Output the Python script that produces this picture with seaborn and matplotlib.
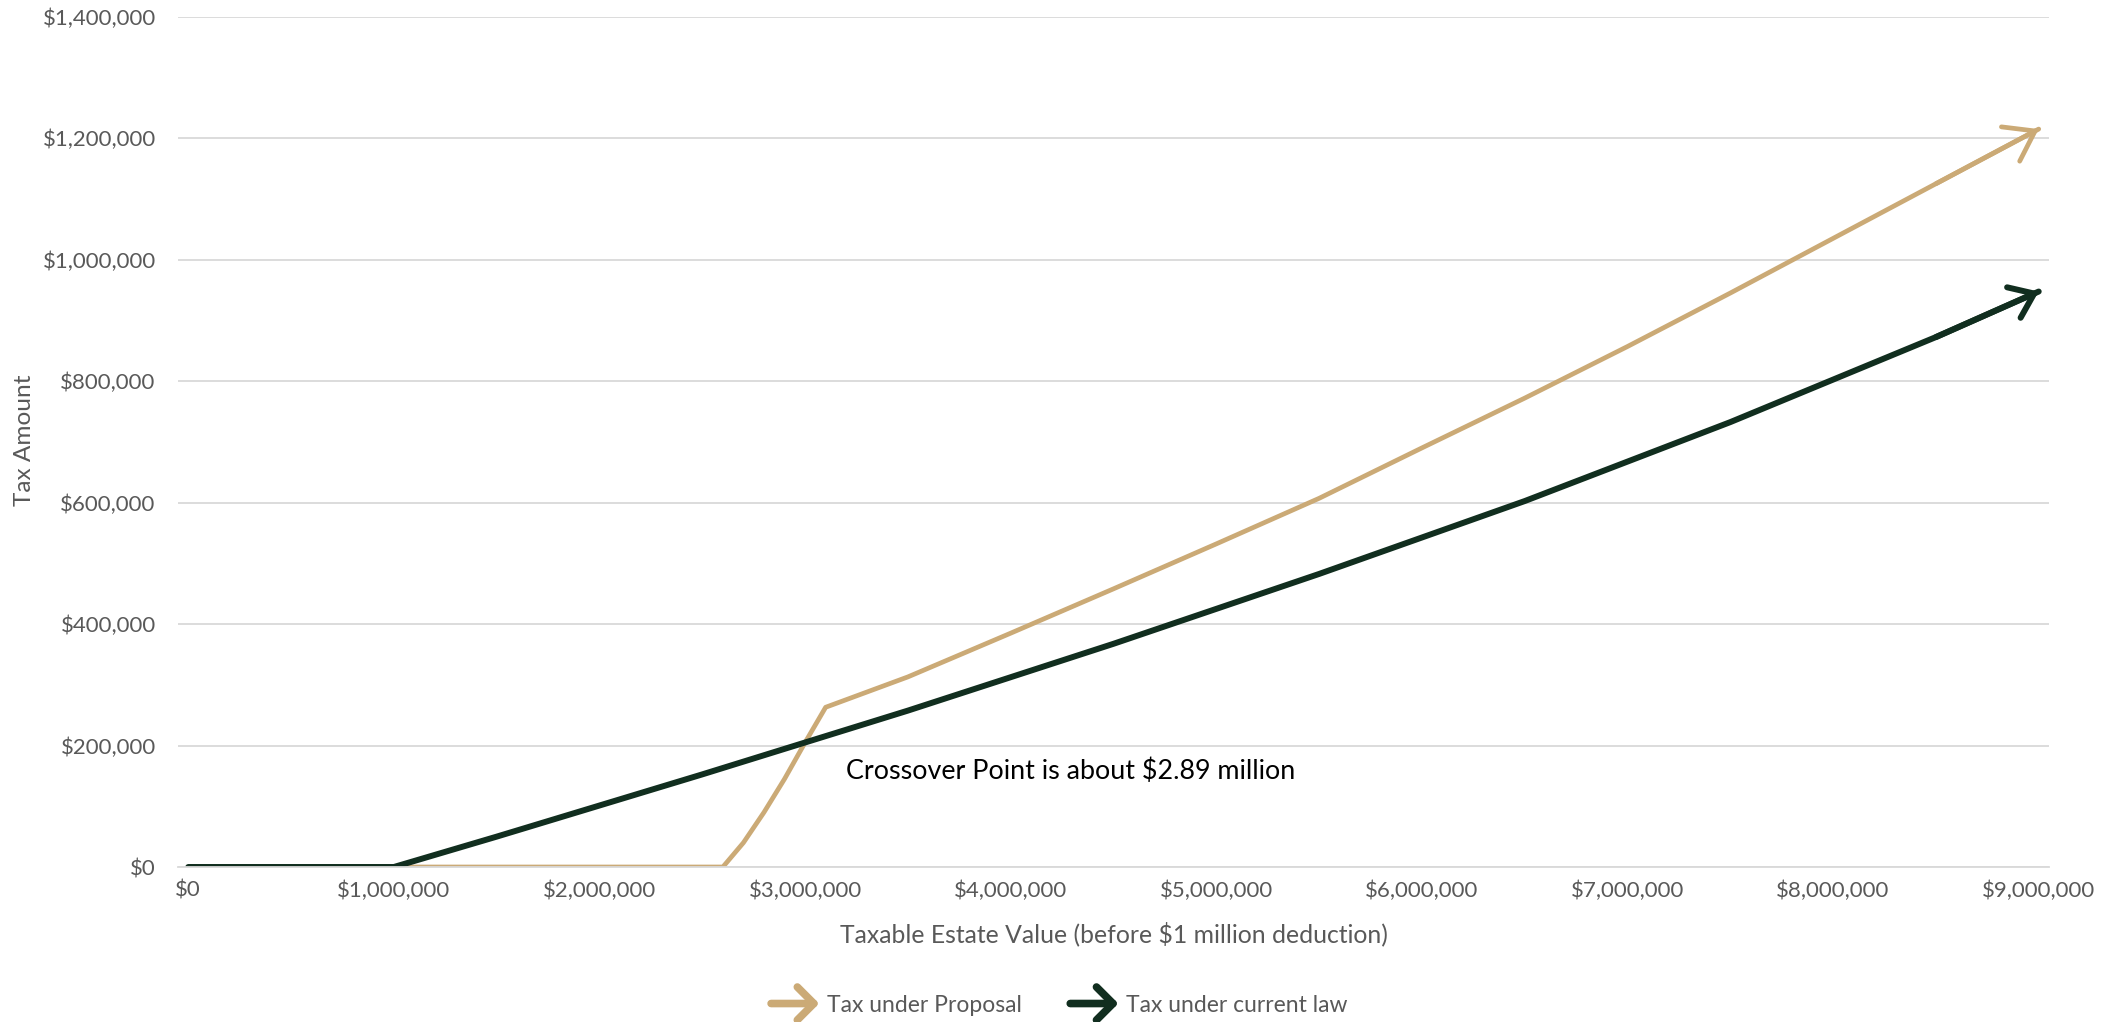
import numpy as np
import pandas as pd
import matplotlib
matplotlib.use("Agg")
import matplotlib.pyplot as plt
import seaborn as sns
from matplotlib.patches import FancyArrowPatch
from matplotlib.legend_handler import HandlerBase
from matplotlib.lines import Line2D
from matplotlib.ticker import FuncFormatter, FixedLocator

# ---------------- data ----------------
estate_proposal = [0, 500000, 1000000, 1500000, 2000000, 2500000, 2600000, 2700000,
                   2800000, 2900000, 3000000, 3100000, 3500000, 4000000, 4500000,
                   5000000, 5500000, 6000000, 6500000, 7000000, 7500000, 8000000,
                   8500000, 9000000]
tax_proposal = [0, 0, 0, 0, 0, 0, 0, 40000, 90000, 145000, 205000, 263000, 313000,
                385000, 458000, 532000, 607000, 690000, 772000, 857000, 945000,
                1035000, 1125000, 1215000]

estate_current = [0, 500000, 1000000, 1500000, 2000000, 2500000, 3000000, 3500000,
                  4000000, 4500000, 5000000, 5500000, 6000000, 6500000, 7000000,
                  7500000, 8000000, 8500000, 9000000]
tax_current = [0, 0, 0, 50000, 101250, 152500, 205000, 257500, 312500, 367500,
               425000, 482500, 542500, 602500, 667500, 732500, 802500, 872500, 947500]

series_names = ["Tax under Proposal", "Tax under current law"]
series_colors = ["#CBAA76", "#112E1F"]
x_tick_values = [0, 1000000, 2000000, 3000000, 4000000, 5000000, 6000000, 7000000,
                 8000000, 9000000]
y_tick_values = [0, 200000, 400000, 600000, 800000, 1000000, 1200000, 1400000]
x_label = "Taxable Estate Value (before $1 million deduction)"
y_label = "Tax Amount"
annotation_text = "Crossover Point is about $2.89 million"

# ---------------- style ----------------
sns.set_theme(style="white")
plt.rcParams['font.family'] = ['Lato', 'DejaVu Sans']

GRAY_TXT = "#595959"
GRID = "#D9D9D9"

df = pd.concat([
    pd.DataFrame({"estate": estate_proposal, "tax": tax_proposal, "series": series_names[0]}),
    pd.DataFrame({"estate": estate_current, "tax": tax_current, "series": series_names[1]}),
], ignore_index=True)

W, H = 2119, 1022
fig = plt.figure(figsize=(W / 100, H / 100), dpi=100)
ax = fig.add_axes([178 / W, 1 - 867 / H, (2049 - 178) / W, (867 - 16.7) / H])

palette = dict(zip(series_names, series_colors))
sns.lineplot(data=df, x="estate", y="tax", hue="series", hue_order=series_names,
             palette=palette, estimator=None, sort=False, ax=ax, legend=False)

line_widths = [3.4, 4.3]
for ln, lw in zip(ax.lines, line_widths):
    ln.set_linewidth(lw)
    ln.set_solid_capstyle("round")
    ln.set_solid_joinstyle("round")

# arrow heads at the end of each series
arrow_specs = [(estate_proposal, tax_proposal, series_colors[0], line_widths[0], 1.0, 0.7),
               (estate_current, tax_current, series_colors[1], line_widths[1], 0.8, 0.6)]
for xs, ys, c, lw, hl, hw in arrow_specs:
    ax.annotate("", xy=(xs[-1], ys[-1]), xytext=(xs[-2], ys[-2]),
                arrowprops=dict(arrowstyle=f"->,head_length={hl},head_width={hw}",
                                color=c, lw=lw, shrinkA=0, shrinkB=0,
                                mutation_scale=20, capstyle="round", joinstyle="round"),
                zorder=5)

ax.set_xlim(-50000, 9050000)
ax.set_ylim(0, 1400000)

ax.set_yticks(y_tick_values)
ax.set_xticks(x_tick_values)
money = FuncFormatter(lambda v, p: f"${v:,.0f}")
ax.yaxis.set_major_formatter(money)
ax.xaxis.set_major_formatter(money)
ax.xaxis.set_minor_locator(FixedLocator(np.arange(-50000, 9000000, 500000)))

ax.tick_params(axis="y", length=0, pad=16, labelsize=16, labelcolor=GRAY_TXT)
ax.tick_params(axis="x", which="major", length=0, pad=10, labelsize=16, labelcolor=GRAY_TXT)
ax.tick_params(axis="x", which="minor", direction="in", length=5, width=1.2, color=GRID)

ax.yaxis.grid(True, color=GRID, lw=1.3)
ax.xaxis.grid(False)
for s in ["top", "right", "left"]:
    ax.spines[s].set_visible(False)
ax.spines["bottom"].set_color(GRID)
ax.spines["bottom"].set_linewidth(1.3)

ax.set_xlabel(x_label, fontsize=17.8, color=GRAY_TXT)
ax.xaxis.label.set_va("center")
ax.xaxis.set_label_coords(0.5, -0.0788)
ax.set_ylabel(y_label, fontsize=17.6, color=GRAY_TXT)
ax.yaxis.label.set_va("center")
ax.yaxis.set_label_coords(-0.0823, 0.502)

ax.text(3200000, 158000, annotation_text, fontsize=19.4, color="black",
        ha="left", va="center")


# legend with arrow glyphs
class ArrowHandler(HandlerBase):
    def create_artists(self, legend, orig_handle, xdescent, ydescent, width, height,
                       fontsize, trans):
        y = height / 2 - ydescent
        arr = FancyArrowPatch((-xdescent, y), (-xdescent + width, y),
                              arrowstyle="->,head_length=0.6,head_width=0.6",
                              mutation_scale=fontsize * 1.2,
                              color=orig_handle.get_color(),
                              lw=orig_handle.get_linewidth(),
                              capstyle="round", joinstyle="round",
                              shrinkA=0, shrinkB=0, transform=trans)
        return [arr]


handles = [Line2D([], [], color=c, lw=5.5) for c in series_colors]
leg = fig.legend(handles, series_names, loc="center", bbox_to_anchor=(0.5, 0.0166),
                 ncol=2, frameon=False, fontsize=16.5, handlelength=2.1,
                 handletextpad=0.35, columnspacing=2.1,
                 handler_map={Line2D: ArrowHandler()})
for t in leg.get_texts():
    t.set_color(GRAY_TXT)

fig.savefig("out.png", dpi=100)
